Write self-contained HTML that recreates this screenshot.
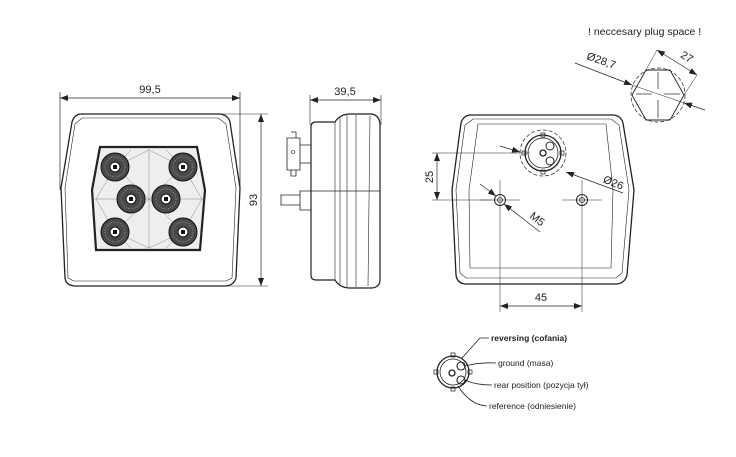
<!DOCTYPE html>
<html><head><meta charset="utf-8"><style>
html,body{margin:0;padding:0;background:#fff;}
svg{display:block;font-family:"Liberation Sans",sans-serif;}
</style></head><body>
<svg width="736" height="457" viewBox="0 0 736 457" xmlns="http://www.w3.org/2000/svg">
<defs>
<marker id="a" markerWidth="8" markerHeight="6" refX="8" refY="3" orient="auto" markerUnits="userSpaceOnUse"><path d="M0,0 L8,3 L0,6 z" fill="#222"/></marker>
<marker id="b" markerWidth="8" markerHeight="6" refX="0" refY="3" orient="auto" markerUnits="userSpaceOnUse"><path d="M8,0 L0,3 L8,6 z" fill="#222"/></marker>
</defs>
<g stroke="#222" fill="none" stroke-width="1">
<!-- front view -->
<line x1="60" y1="92" x2="60" y2="190" stroke-width="0.7"/>
<line x1="240" y1="92" x2="240" y2="190" stroke-width="0.7"/>
<line x1="60" y1="98" x2="240" y2="98" marker-start="url(#b)" marker-end="url(#a)" stroke-width="0.7"/>
<path d="M80,114 L220,114 Q228,115 230,122 L240,188 L236,278 Q234,285 226,286 L74,286 Q66,285 65,278 L61,188 L72,122 Q74,115 80,114 Z" stroke-width="1.3"/>
<path d="M82,118 L218,118 L226,124 L236,188 L232,278 L226,281 L74,281 L68,278 L65,188 L75,124 Z" stroke-width="0.6"/>
<line x1="222" y1="114" x2="268" y2="114" stroke-width="0.6"/>
<line x1="226" y1="286" x2="268" y2="286" stroke-width="0.6"/>
<line x1="261" y1="114" x2="261" y2="286" marker-start="url(#b)" marker-end="url(#a)" stroke-width="0.7"/>
<path d="M100,147 L197,147 L205,190 L200,250 L96,250 L92,190 Z" stroke-width="2.2" fill="#eee"/>
<g stroke="#888" stroke-width="0.5">
<line x1="149" y1="149" x2="149" y2="248"/><line x1="94" y1="199" x2="203" y2="199"/>
<line x1="115" y1="167" x2="149" y2="199"/><line x1="183" y1="167" x2="149" y2="199"/>
<line x1="115" y1="232" x2="149" y2="199"/><line x1="183" y1="232" x2="149" y2="199"/>
<line x1="115" y1="167" x2="149" y2="150"/><line x1="183" y1="167" x2="149" y2="150"/>
<line x1="115" y1="232" x2="149" y2="248"/><line x1="183" y1="232" x2="149" y2="248"/>
<line x1="115" y1="167" x2="96" y2="199"/><line x1="115" y1="232" x2="96" y2="199"/>
<line x1="183" y1="167" x2="202" y2="199"/><line x1="183" y1="232" x2="202" y2="199"/>
<line x1="115" y1="167" x2="131" y2="150"/><line x1="183" y1="167" x2="166" y2="150"/>
<line x1="115" y1="232" x2="131" y2="248"/><line x1="183" y1="232" x2="166" y2="248"/>
</g>
<g fill="#4a4a4a" stroke="#111">
<circle cx="115" cy="167" r="14"/><circle cx="183" cy="167" r="14"/>
<circle cx="131" cy="199" r="14"/><circle cx="166" cy="199" r="14"/>
<circle cx="115" cy="232" r="14"/><circle cx="183" cy="232" r="14"/>
</g>
<g fill="none" stroke="#bbb" stroke-width="0.6" stroke-dasharray="1,1.5">
<circle cx="115" cy="167" r="10"/><circle cx="183" cy="167" r="10"/>
<circle cx="131" cy="199" r="10"/><circle cx="166" cy="199" r="10"/>
<circle cx="115" cy="232" r="10"/><circle cx="183" cy="232" r="10"/>
</g>
<g fill="#fff" stroke="#111">
<circle cx="115" cy="167" r="5"/><circle cx="183" cy="167" r="5"/>
<circle cx="131" cy="199" r="5"/><circle cx="166" cy="199" r="5"/>
<circle cx="115" cy="232" r="5"/><circle cx="183" cy="232" r="5"/>
</g>
<g fill="#111" stroke="none">
<rect x="113" y="165" width="4" height="4"/><rect x="181" y="165" width="4" height="4"/>
<rect x="129" y="197" width="4" height="4"/><rect x="164" y="197" width="4" height="4"/>
<rect x="113" y="230" width="4" height="4"/><rect x="181" y="230" width="4" height="4"/>
</g>
<!-- side view -->
<line x1="310" y1="95" x2="310" y2="125" stroke-width="0.6"/>
<line x1="381" y1="95" x2="381" y2="125" stroke-width="0.6"/>
<line x1="310" y1="100" x2="381" y2="100" marker-start="url(#b)" marker-end="url(#a)" stroke-width="0.7"/>
<path d="M316,122 L335,122 Q340,114 350,114 L372,114 Q380,116 380,125 L380,280 Q380,287 372,288 L350,288 Q340,288 335,280 L316,280 Q311,280 311,275 L311,127 Q311,122 316,122 Z" stroke-width="1.2"/>
<line x1="335" y1="122" x2="335" y2="280" stroke-width="0.6"/>
<line x1="340" y1="118" x2="340" y2="284" stroke-width="0.6"/>
<line x1="347" y1="115" x2="347" y2="287" stroke-width="0.6"/>
<line x1="356" y1="115" x2="356" y2="287" stroke-width="0.6"/>
<line x1="370" y1="116" x2="368" y2="286" stroke-width="0.6"/>
<line x1="311" y1="191" x2="380" y2="191" stroke-width="0.8"/>
<path d="M287,138 L300,138 L300,170 L287,170 Z M291,132 L296,132 L296,138 M291,170 L291,176 L296,176 L296,170 M300,145 L311,145 M300,163 L311,163" stroke-width="0.8"/>
<circle cx="293" cy="152" r="1.5" stroke-width="0.6"/>
<path d="M300,191 L311,191 L311,210 L300,210 Z M281,195 L300,195 L300,205 L281,205 Z" stroke-width="0.8"/>
<!-- back view -->
<path d="M470,115 L614,115 Q621,116 623,123 L634,190 L627,275 Q625,283 617,284 L465,284 Q457,283 456,275 L452,190 L461,123 Q463,116 470,115 Z" stroke-width="1.3"/>
<path d="M473,119 L611,119 L619,125 L629,190 L622,273 L616,278 L466,278 L460,273 L456,190 L465,125 Z" stroke-width="0.6"/>
<path d="M478,124 L606,124 L613,190 L611,268 L470,268 L469,190 Z" stroke-width="0.6"/>
<circle cx="543" cy="153" r="23" stroke-dasharray="4,2" stroke-width="0.7"/>
<circle cx="543" cy="153" r="18" stroke-width="1.3"/>
<circle cx="543" cy="153" r="15" stroke-width="0.8"/>
<circle cx="543" cy="153" r="3" stroke-width="1.3"/>
<circle cx="550" cy="146" r="4" stroke-width="1"/>
<circle cx="550" cy="161" r="4" stroke-width="1"/>
<path d="M541,133 h4 v4 h-4z M541,170 h4 v4 h-4z M522,151 h4 v4 h-4z M560,151 h4 v4 h-4z" stroke-width="0.7"/>
<circle cx="500" cy="200" r="5.5" stroke-width="1"/><circle cx="500" cy="200" r="2.5" stroke-width="0.8"/>
<circle cx="582" cy="200" r="5.5" stroke-width="1"/><circle cx="582" cy="200" r="2.5" stroke-width="0.8"/>
<g stroke-width="0.5"><line x1="480" y1="200" x2="520" y2="200"/><line x1="562" y1="200" x2="602" y2="200"/>
<line x1="500" y1="180" x2="500" y2="312"/><line x1="582" y1="180" x2="582" y2="312"/>
<line x1="432" y1="153" x2="530" y2="153"/><line x1="432" y1="200" x2="492" y2="200"/></g>
<line x1="437" y1="153" x2="437" y2="200" marker-start="url(#b)" marker-end="url(#a)" stroke-width="0.7"/>
<line x1="500" y1="306" x2="582" y2="306" marker-start="url(#b)" marker-end="url(#a)" stroke-width="0.7"/>
<line x1="500" y1="146" x2="520" y2="152" marker-end="url(#a)" stroke-width="0.7"/>
<line x1="623" y1="193" x2="566" y2="172" marker-end="url(#a)" stroke-width="0.7"/>
<line x1="540" y1="232" x2="504" y2="204" marker-end="url(#a)" stroke-width="0.7"/>
<line x1="480" y1="184" x2="496" y2="196" marker-end="url(#a)" stroke-width="0.7"/>
<!-- plug space -->
<circle cx="658" cy="95" r="27" stroke-dasharray="4,2" stroke-width="0.7"/>
<path d="M646,70 L670,70 L684,95 L670,120 L646,120 L632,95 Z" stroke-width="0.9"/>
<g stroke="#555" stroke-width="0.9"><line x1="658" y1="72" x2="658" y2="89"/><line x1="658" y1="100" x2="658" y2="118"/><line x1="636" y1="94" x2="652" y2="94"/><line x1="664" y1="94" x2="680" y2="94"/></g>
<line x1="575" y1="63" x2="632" y2="85" marker-end="url(#a)" stroke-width="0.7"/>
<line x1="705" y1="110" x2="684" y2="103" marker-end="url(#a)" stroke-width="0.7"/>
<line x1="632" y1="85" x2="684" y2="103" stroke-width="0.5"/>
<line x1="657" y1="50" x2="697" y2="75" marker-start="url(#b)" marker-end="url(#a)" stroke-width="0.7"/>
<line x1="657" y1="50" x2="646" y2="70" stroke-width="0.5"/>
<line x1="697" y1="75" x2="684" y2="95" stroke-width="0.5"/>
<!-- pin diagram -->
<circle cx="453" cy="372" r="16" stroke-width="1.3"/>
<circle cx="453" cy="372" r="13" stroke-width="0.8"/>
<circle cx="452" cy="373" r="3" stroke-width="1.3"/>
<circle cx="461" cy="366" r="4" stroke-width="1.1"/>
<circle cx="461" cy="380" r="4" stroke-width="1.1"/>
<path d="M451,353 h4 v4 h-4z M451,387 h4 v4 h-4z M434,370 h4 v4 h-4z M468,370 h4 v4 h-4z" stroke-width="0.7"/>
<path d="M462,358 L480,338 L489,338" stroke-width="0.8"/>
<path d="M465,366 Q480,362 496,363" stroke-width="0.8"/>
<path d="M465,380 Q475,385 492,385" stroke-width="0.8"/>
<path d="M458,386 Q470,405 487,406" stroke-width="0.8"/>
</g>
<g fill="#222" font-size="11">
<text x="150" y="93" text-anchor="middle">99,5</text>
<text x="345" y="95" text-anchor="middle">39,5</text>
<text transform="translate(257,200) rotate(-90)" text-anchor="middle">93</text>
<text transform="translate(433,177) rotate(-90)" text-anchor="middle">25</text>
<text x="541" y="301" text-anchor="middle">45</text>
<text transform="translate(612,186) rotate(22)" text-anchor="middle">Ø26</text>
<text transform="translate(535,222) rotate(38)" text-anchor="middle">M5</text>
<text x="588" y="35" font-size="10.5">! neccesary plug space !</text>
<text transform="translate(600,64) rotate(20)" text-anchor="middle">Ø28,7</text>
<text transform="translate(685,60) rotate(32)" text-anchor="middle">27</text>
<g font-size="8.5"><text x="491" y="341" font-weight="bold">reversing (cofania)</text>
<text x="498" y="366">ground (masa)</text>
<text x="494" y="388">rear position (pozycja tył)</text>
<text x="489" y="409">reference (odniesienie)</text></g>
</g>
</svg>
</body></html>
